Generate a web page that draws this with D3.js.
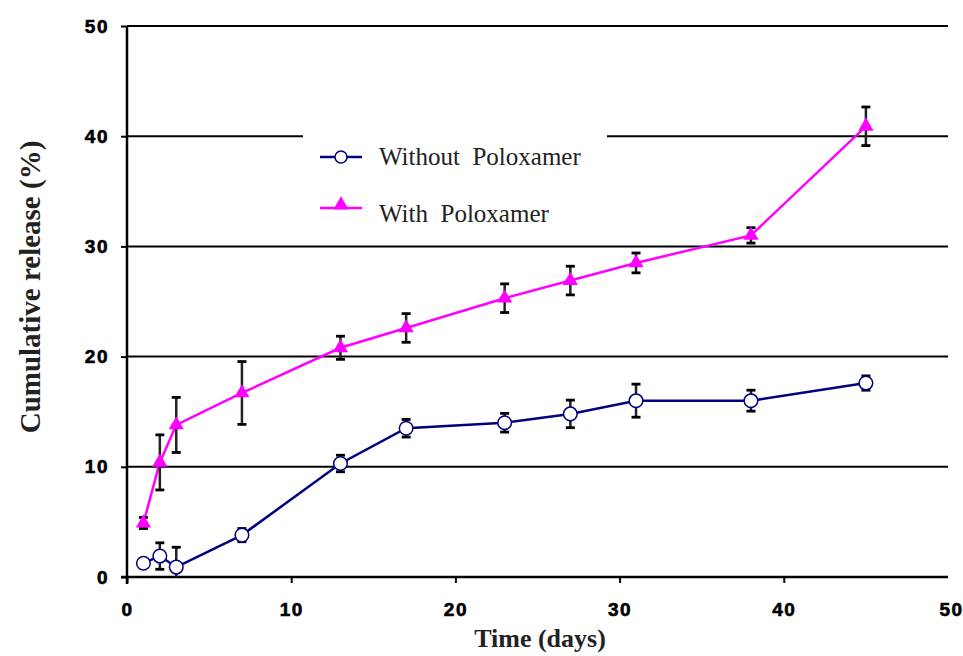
<!DOCTYPE html>
<html><head><meta charset="utf-8">
<script src="https://cdn.jsdelivr.net/npm/d3@7/dist/d3.min.js"></script>
<style>body{margin:0;background:#fff;}svg{display:block;}</style>
</head><body>
<svg id="chart" width="963" height="656"></svg>
<script>
const days = [1, 2, 3, 7, 13, 17, 23, 27, 31, 38, 45];
const withoutMean = [1.25, 1.9, 0.9, 3.8, 10.3, 13.5, 14.0, 14.8, 16.0, 16.0, 17.6];
const withoutErr  = [0.3, 1.2, 1.8, 0.6, 0.75, 0.8, 0.85, 1.25, 1.5, 0.95, 0.65];
const withMean = [4.9, 10.4, 13.8, 16.7, 20.8, 22.6, 25.3, 26.9, 28.5, 31.0, 40.9];
const withErr  = [0.5, 2.5, 2.5, 2.85, 1.05, 1.3, 1.3, 1.3, 0.9, 0.7, 1.75];
const xTicks = [0, 10, 20, 30, 40, 50];
const yTicks = [0, 10, 20, 30, 40, 50];
const seriesNames = ["Without  Poloxamer", "With  Poloxamer"];

const svg = d3.select("#chart");
const x = d3.scaleLinear().domain([0, 50]).range([127, 948]);
const y = d3.scaleLinear().domain([0, 50]).range([577, 26]);

// gridlines
const grid = svg.append("g");
yTicks.filter(d => d > 0).forEach(t => {
  grid.append("line").attr("x1", x(0)).attr("x2", x(50)).attr("y1", y(t)).attr("y2", y(t))
    .attr("stroke", "#000").attr("stroke-width", 2);
});

const tickFont = "Liberation Sans, Arial, sans-serif";
// y axis
const yAxis = svg.append("g").attr("transform", `translate(${x(0)},0)`)
  .call(d3.axisLeft(y).tickValues(yTicks).tickSize(6).tickPadding(12));
yAxis.select(".domain").attr("stroke-width", 2.5).attr("d", `M0,${y(50)}V${y(0)+7}`);
yAxis.selectAll(".tick line").attr("stroke-width", 2);
yAxis.selectAll("text").attr("font-family", tickFont)
  .attr("font-weight", "bold").attr("font-size", 19).attr("letter-spacing", 1.5).attr("fill", "#000")
  .attr("stroke", "#000").attr("stroke-width", 0.6);

// x axis
const xAxis = svg.append("g").attr("transform", `translate(0,${y(0)})`)
  .call(d3.axisBottom(x).tickValues(xTicks).tickSize(6).tickPadding(20));
xAxis.select(".domain").attr("stroke-width", 2.5).attr("d", `M${x(0)-6},0H${x(50)}`);
xAxis.selectAll(".tick line").attr("stroke-width", 2).filter(d => d === 50).remove();
xAxis.selectAll("text").attr("font-family", tickFont)
  .attr("font-weight", "bold").attr("font-size", 19).attr("letter-spacing", 1.5).attr("fill", "#000")
  .attr("stroke", "#000").attr("stroke-width", 0.6)
  .attr("dx", d => d === 50 ? 3 : 0);

// legend background (covers gridline)
svg.append("rect").attr("x", 303).attr("y", 128).attr("width", 304).attr("height", 110).attr("fill", "#fff");

// lines
const line = d3.line().x((d, i) => x(days[i])).y(d => y(d));
svg.append("path").datum(withoutMean).attr("d", line).attr("fill", "none")
  .attr("stroke", "#000080").attr("stroke-width", 2.5);
svg.append("path").datum(withMean).attr("d", line).attr("fill", "none")
  .attr("stroke", "#ff00ff").attr("stroke-width", 2.5);

// error bars
function errBars(means, errs) {
  const g = svg.append("g");
  means.forEach((m, i) => {
    const cx = x(days[i]);
    const lo = Math.max(0, m - errs[i]), hi = m + errs[i];
    g.append("line").attr("x1", cx).attr("x2", cx).attr("y1", y(lo)).attr("y2", y(hi))
      .attr("stroke", "#222").attr("stroke-width", 2.5);
    [hi, lo].forEach(v => {
      if (v <= 0) return;
      g.append("line").attr("x1", cx - 4.5).attr("x2", cx + 4.5).attr("y1", y(v)).attr("y2", y(v))
        .attr("stroke", "#000").attr("stroke-width", 2.8);
    });
  });
}
errBars(withoutMean, withoutErr);
errBars(withMean, withErr);

// markers
const tri = d3.symbol().type(d3.symbolTriangle).size(100);
svg.append("g").selectAll("path").data(withMean).join("path")
  .attr("d", tri).attr("transform", (d, i) => `translate(${x(days[i])},${y(d)})`)
  .attr("fill", "#ff00ff");
svg.append("g").selectAll("circle").data(withoutMean).join("circle")
  .attr("cx", (d, i) => x(days[i])).attr("cy", d => y(d)).attr("r", 6.8)
  .attr("fill", "#fff").attr("stroke", "#000080").attr("stroke-width", 1.5);

// legend
const serif = "Liberation Serif, Times New Roman, serif";
const lg = svg.append("g");
lg.append("line").attr("x1", 320).attr("x2", 362).attr("y1", 157).attr("y2", 157)
  .attr("stroke", "#000080").attr("stroke-width", 2.5);
lg.append("circle").attr("cx", 341).attr("cy", 157).attr("r", 6).attr("fill", "#fff")
  .attr("stroke", "#000080").attr("stroke-width", 1.5);
lg.append("line").attr("x1", 320).attr("x2", 362).attr("y1", 208).attr("y2", 208)
  .attr("stroke", "#ff00ff").attr("stroke-width", 2.5);
lg.append("path").attr("d", tri).attr("transform", "translate(341,205)").attr("fill", "#ff00ff");
lg.append("text").attr("x", 379).attr("y", 165).text(seriesNames[0])
  .attr("font-family", serif).attr("font-size", 25)
  .attr("fill", "#222").style("white-space", "pre");
lg.append("text").attr("x", 379).attr("y", 222).text(seriesNames[1])
  .attr("font-family", serif).attr("font-size", 25)
  .attr("fill", "#222").style("white-space", "pre");

// axis titles
svg.append("text").attr("x", 540).attr("y", 647).attr("text-anchor", "middle")
  .attr("font-family", serif).attr("font-weight", "bold")
  .attr("font-size", 26).attr("fill", "#222").text("Time (days)");
svg.append("text").attr("transform", "translate(40,287) rotate(-90)").attr("text-anchor", "middle")
  .attr("font-family", serif).attr("font-weight", "bold")
  .attr("font-size", 29).attr("fill", "#222").text("Cumulative release (%)");
</script>
</body></html>
